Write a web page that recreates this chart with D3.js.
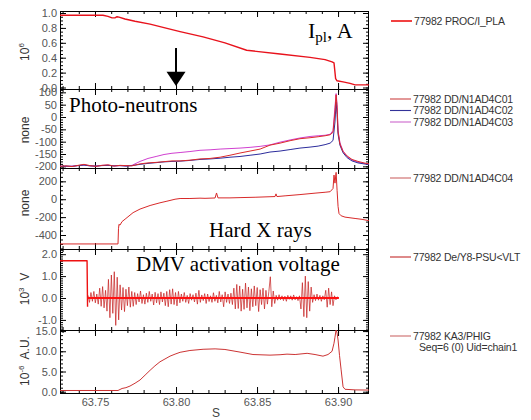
<!DOCTYPE html>
<html>
<head>
<meta charset="utf-8">
<script src="https://cdn.jsdelivr.net/npm/d3@7"></script>
<style>
  body { margin: 0; background: #fff; }
  svg { display: block; }
</style>
</head>
<body>
<svg id="chart" width="531" height="420"></svg>
<script>

// ---- data (time in s) ----
const iplT = [63.7284, 63.7549, 63.7580, 63.7605, 63.7623, 63.7636, 63.7648, 63.7685, 63.7747, 63.7840,
  63.7932, 63.8025, 63.8167, 63.8302, 63.8436, 63.8642, 63.8827, 63.8920, 63.8963, 63.8975,
  63.8985, 63.8994, 63.9031, 63.9074, 63.9105, 63.9191];
const iplV = [0.97, 0.97, 0.955, 0.935, 0.935, 0.95, 0.945, 0.92, 0.89, 0.85,
  0.80, 0.75, 0.68, 0.60, 0.50, 0.45, 0.405, 0.375, 0.345, 0.33,
  0.12, 0.09, 0.075, 0.055, 0.035, 0.035];

const neutronT = [63.7284, 63.7321, 63.7358, 63.7395, 63.7432, 63.7469, 63.7506, 63.7543, 63.7580, 63.7617,
  63.7654, 63.7691, 63.7728, 63.7778, 63.7827, 63.7877, 63.7926, 63.7975, 63.8025, 63.8086,
  63.8148, 63.8210, 63.8272, 63.8333, 63.8395, 63.8457, 63.8519, 63.8580, 63.8642, 63.8704,
  63.8765, 63.8827, 63.8877, 63.8920, 63.8951, 63.8969, 63.8981, 63.8988, 63.8994, 63.9000,
  63.9012, 63.9031, 63.9056, 63.9086, 63.9123, 63.9160, 63.9191];
const c01 = [-200, -198, -201, -196, -192, -197, -200, -196, -194, -199,
  -196, -197, -198, -190, -186, -184, -181, -178, -178, -175,
  -170, -168, -163, -155, -146, -138, -130, -114, -106, -96,
  -88, -84, -80, -76, -72, -62, 20, 90, 40, -60,
  -110, -140, -158, -172, -180, -186, -190];
const c02 = [-201, -199, -200, -197, -195, -198, -199, -197, -196, -198,
  -197, -199, -197, -192, -188, -185, -182, -180, -179, -176,
  -172, -170, -167, -163, -160, -155, -150, -142, -138, -132,
  -126, -122, -118, -112, -106, -95, -20, 60, 10, -70,
  -115, -145, -165, -178, -186, -190, -193];
const c03 = [-199, -200, -199, -197, -194, -198, -199, -196, -195, -198,
  -197, -198, -196, -180, -168, -160, -152, -147, -144, -140,
  -135, -133, -130, -128, -126, -123, -119, -113, -102, -93,
  -85, -79, -76, -74, -70, -55, 40, 95, 50, -55,
  -105, -138, -160, -174, -183, -188, -192];

const hxrT = [63.7284, 63.7642, 63.7645, 63.7648, 63.7654, 63.7667, 63.7691, 63.7735, 63.7778, 63.7840,
  63.7901, 63.7944, 63.7994, 63.8025, 63.8086, 63.8148, 63.8179, 63.8241, 63.8250, 63.8259,
  63.8333, 63.8395, 63.8488, 63.8580, 63.8611, 63.8617, 63.8623, 63.8673, 63.8765, 63.8858,
  63.8920, 63.8951, 63.8969, 63.8975, 63.8981, 63.8988, 63.8994, 63.9000, 63.9006, 63.9019,
  63.9043, 63.9105, 63.9148, 63.9191];
const hxrV = [-500, -500, -330, -280, -290, -250, -215, -150, -110, -70,
  -40, -22, 0, 8, 8, 12, 10, 14, 70, 15,
  15, 18, 22, 28, 30, 60, 30, 38, 52, 68,
  78, 84, 120, 270, 180, 300, 100, -80, -160, -185,
  -200, -215, -225, -240];

const dmvFlatT = [63.7284, 63.7451, 63.7454];
const dmvFlatV = [1.70, 1.70, -0.40];
const dmvStart = 63.7457, dmvStep = 0.0009;
const dmvV = [
  0.12, -0.2, 0.25, -0.15, 0.3, -0.22, 0.18, -0.28,
  0.45, -0.38, 0.52, -0.45, 0.35, -0.6,
  0.85, -0.9, 1.05, -0.7, 1.2, -1.25, 0.95, -1.0,
  0.6, -0.55, 0.48, -0.62, 0.4, -0.35, 0.5, -0.42, 0.3, -0.38,
  0.25, -0.3, 0.2, -0.18, 0.32, -0.25, 0.15, -0.28, 0.22, -0.2, 0.3, -0.15, 0.18, -0.32, 0.26, -0.22, 0.2, -0.3, 0.28, -0.18, 0.22,
  -0.35, 0.3, -0.4, 0.38, -0.28, 0.42, -0.3, 0.25, -0.36, 0.3,
  -0.22, 0.18, -0.15, 0.25, -0.2, 0.12, -0.25, 0.2, -0.1, 0.15, -0.18, 0.22, -0.28, 0.35, -0.2, 0.14, -0.12, 0.2, -0.25, 0.18,
  -0.16, 0.1, -0.2, 0.24, -0.15, 0.12, -0.22, 0.3, -0.18, 0.15, -0.4, 0.28, -0.2, 0.18, -0.25, 0.22, -0.3,
  0.45, -0.5, 0.62, -0.48, 0.55, -0.6, 0.4, -0.52, 0.68, -0.45, 0.5, -0.58, 0.42, -0.4, 0.55, -0.35, 0.48, -0.62, 0.38, -0.3,
  0.45, -0.5, 0.35, -0.28, 0.3, 0.97, -0.4, 0.32, -0.25,
  0.12, -0.1, 0.15, -0.08, 0.1, -0.12, 0.08, -0.15, 0.12, -0.06, 0.1, -0.1, 0.14, -0.08, 0.06, -0.12, 0.1,
  -0.5, 0.7, -0.85, 1.0, -0.9, 0.75, -0.6, 0.5,
  -0.2, 0.15, -0.12, 0.18, -0.1, 0.12, -0.15, 0.1, -0.08,
  0.35, -0.42, 0.45, -0.3, 0.28, -0.35,
  0.1, -0.08, 0.05, 0.0];

const phigT = [63.7284, 63.7642, 63.7667, 63.7691, 63.7716, 63.7747, 63.7778, 63.7809, 63.7840, 63.7870,
  63.7901, 63.7932, 63.7963, 63.7994, 63.8025, 63.8086, 63.8167, 63.8241, 63.8302, 63.8395,
  63.8475, 63.8580, 63.8642, 63.8685, 63.8735, 63.8809, 63.8858, 63.8907, 63.8938, 63.8963,
  63.8975, 63.8981, 63.8988, 63.8994, 63.9000, 63.9009, 63.9019, 63.9031, 63.9043, 63.9105,
  63.9191];
const phigV = [0.3, 0.3, 0.8, 1.0, 1.4, 2.1, 2.9, 4.1, 5.3, 6.4,
  7.4, 8.1, 8.8, 9.3, 9.75, 10.2, 10.5, 10.6, 10.45, 9.8,
  9.2, 9.05, 9.15, 9.3, 9.2, 9.5, 9.2, 8.8, 9.2, 10.0,
  12, 13.5, 15.3, 14.5, 12.8, 9, 5.4, 1.2, 0.6, 0.45,
  0.4];

const xTicks = [63.75, 63.80, 63.85, 63.90];
const legendLabels = ["77982 PROC/I_PLA", "77982 DD/N1AD4C01", "77982 DD/N1AD4C02", "77982 DD/N1AD4C03",
  "77982 DD/N1AD4C04", "77982 De/Y8-PSU<VLT", "77982 KA3/PHIG"];

// ---- layout ----
const svg = d3.select("#chart");
const x0 = 60, x1 = 369;
const x = d3.scaleLinear().domain([63.7284, 63.9191]).range([x0, x1]);
const tickFont = "'Liberation Sans', Arial, sans-serif";

const panels = [
  { top: 11, bottom: 89, domain: [-0.02, 1.027], ticks: [0, 0.2, 0.4, 0.6, 0.8, 1.0], minor: 0.05, fmt: d => d.toFixed(1), lab: ["10", "6", ""], ly: 52 },
  { top: 89, bottom: 168, domain: [-206.7, 113.5], ticks: [-200, -150, -100, -50, 0, 50, 100], minor: 10, fmt: d => String(d), lab: ["none"], ly: 130 },
  { top: 168, bottom: 249, domain: [-556.5, 349.2], ticks: [-400, -200, 0, 200], minor: 50, fmt: d => String(d), lab: ["none"], ly: 203 },
  { top: 249, bottom: 330, domain: [-1.461, 2.237], ticks: [-1, 0, 1, 2], minor: 0.1, fmt: d => d.toFixed(1), lab: ["10", "3", "  V"], ly: 289 },
  { top: 330, bottom: 393, domain: [-0.32, 15.27], ticks: [0, 5, 10, 15], minor: 1, fmt: d => d.toFixed(1), lab: ["10", "-6", "  A.U."], ly: 361 }
];

const ys = panels.map((p, i) => {
  const y = d3.scaleLinear().domain(p.domain).range([p.bottom, p.top]);
  p.y = y;
  svg.append("clipPath").attr("id", "clip" + i)
    .append("rect").attr("x", x0).attr("y", p.top).attr("width", x1 - x0).attr("height", p.bottom - p.top);

  const minorVals = d3.range(Math.ceil(p.domain[0] / p.minor) * p.minor, p.domain[1], p.minor);
  const xMinor = d3.range(63.73, 63.9191, 0.01);

  const axes = svg.append("g").attr("class", "axes");
  const styleAxis = g => {
    g.select(".domain").remove();
    g.selectAll("line").attr("stroke", "#000");
    g.selectAll("text").attr("font-family", tickFont).attr("font-size", 11).attr("fill", "#555");
  };
  axes.append("g").attr("transform", `translate(${x0},0)`)
    .call(d3.axisLeft(y).tickValues(p.ticks).tickSize(-6).tickPadding(3).tickFormat(p.fmt)).call(styleAxis);
  axes.append("g").attr("transform", `translate(${x0},0)`)
    .call(d3.axisLeft(y).tickValues(minorVals).tickSize(-3).tickFormat("")).call(styleAxis);
  axes.append("g").attr("transform", `translate(${x1},0)`)
    .call(d3.axisRight(y).tickValues(p.ticks).tickSize(-6).tickFormat("")).call(styleAxis);
  axes.append("g").attr("transform", `translate(${x1},0)`)
    .call(d3.axisRight(y).tickValues(minorVals).tickSize(-3).tickFormat("")).call(styleAxis);

  axes.append("g").attr("transform", `translate(0,${p.top})`)
    .call(d3.axisTop(x).tickValues(xTicks).tickSize(-6).tickFormat("")).call(styleAxis);
  axes.append("g").attr("transform", `translate(0,${p.top})`)
    .call(d3.axisTop(x).tickValues(xMinor).tickSize(-3).tickFormat("")).call(styleAxis);
  const last = i === panels.length - 1;
  axes.append("g").attr("transform", `translate(0,${p.bottom})`)
    .call(d3.axisBottom(x).tickValues(xTicks).tickSize(-6).tickPadding(5)
      .tickFormat(last ? d3.format(".2f") : "")).call(styleAxis);
  axes.append("g").attr("transform", `translate(0,${p.bottom})`)
    .call(d3.axisBottom(x).tickValues(xMinor).tickSize(-3).tickFormat("")).call(styleAxis);

  // y title
  const t = svg.append("text")
    .attr("transform", `translate(29,${p.ly}) rotate(-90)`)
    .attr("text-anchor", "middle")
    .attr("font-family", tickFont).attr("font-size", 12).attr("fill", "#333")
    .style("white-space", "pre");
  t.append("tspan").text(p.lab[0]);
  if (p.lab.length > 1) {
    t.append("tspan").attr("font-size", 8).attr("dy", -5).text(p.lab[1]);
    t.append("tspan").attr("dy", 5).text(p.lab[2]);
  }
  return y;
});

// frames
panels.forEach(p => {
  svg.append("rect").attr("x", x0 + 0.5).attr("y", p.top + 0.5)
    .attr("width", x1 - x0 - 1).attr("height", p.bottom - p.top)
    .attr("fill", "none").attr("stroke", "#000").attr("stroke-width", 1);
});

function drawLine(i, ts, vs, color, width) {
  const y = ys[i];
  const line = d3.line().x(d => x(d[0])).y(d => y(d[1]));
  svg.append("path")
    .datum(ts.map((t, k) => [t, vs[k]]))
    .attr("clip-path", `url(#clip${i})`)
    .attr("d", line)
    .attr("fill", "none")
    .attr("stroke", color)
    .attr("stroke-width", width)
    .attr("stroke-linejoin", "round");
}

// panel 1
drawLine(0, iplT, iplV, "#e8121c", 1.4);
// panel 2
drawLine(1, neutronT, c03, "#d040d0", 1);
drawLine(1, neutronT, c02, "#2c2c9c", 1);
drawLine(1, neutronT, c01, "#dc2a2a", 1);
// panel 3
drawLine(2, hxrT, hxrV, "#d82a2a", 1);
// panel 4
drawLine(3, dmvFlatT, dmvFlatV, "#ee1111", 1.4);
const dmvT = dmvV.map((v, k) => dmvStart + k * dmvStep);
drawLine(3, dmvT, dmvV, "#c41c1c", 0.7);
drawLine(3, [dmvT[0], dmvT[dmvT.length - 1]], [0, 0], "#ff1010", 2.2);
// panel 5
drawLine(4, phigT, phigV, "#cc3434", 1);

// arrow at 63.80
const ax = x(63.80), ay = ys[0];
svg.append("line").attr("x1", ax).attr("x2", ax).attr("y1", ay(0.53)).attr("y2", ay(0.2))
  .attr("stroke", "#000").attr("stroke-width", 2);
svg.append("path")
  .attr("d", `M${ax - 9.5},${ay(0.21)} L${ax + 9.5},${ay(0.21)} L${ax},${ay(0.02)} Z`)
  .attr("fill", "#000");

// annotations
const serif = "'Liberation Serif', 'Times New Roman', serif";
const ipl = svg.append("text").attr("x", 308).attr("y", 38)
  .attr("font-family", serif).attr("font-size", 22).attr("fill", "#000");
ipl.append("tspan").text("I");
ipl.append("tspan").attr("font-size", 15).attr("dy", 4).text("pl");
ipl.append("tspan").attr("dy", -4).text(", A");
svg.append("text").attr("x", 69).attr("y", 112).attr("font-family", serif).attr("font-size", 21).text("Photo-neutrons");
svg.append("text").attr("x", 209).attr("y", 237).attr("font-family", serif).attr("font-size", 21).text("Hard X rays");
svg.append("text").attr("x", 136).attr("y", 271).attr("font-family", serif).attr("font-size", 21).text("DMV activation voltage");

// x title
svg.append("text").attr("x", 216).attr("y", 417).attr("text-anchor", "middle")
  .attr("font-family", tickFont).attr("font-size", 12).attr("fill", "#444").text("S");

// legend
const legendColors = ["#ee1111", "#cc4444", "#333399", "#cc66cc", "#cc6666", "#c42a2a", "#cc6a6a"];
const legendRows = [21, 99, 110.5, 122, 178, 257, 336];
legendLabels.forEach((lab, k) => {
  const ly = legendRows[k];
  const lx = k === 0 ? 391 : 390;
  svg.append("line").attr("x1", lx).attr("x2", lx + 21).attr("y1", ly).attr("y2", ly)
    .attr("stroke", legendColors[k]).attr("stroke-width", k === 0 ? 1.6 : 1.1);
  svg.append("text").attr("x", lx + 23).attr("y", ly + 3.8)
    .attr("font-family", tickFont).attr("font-size", 10.5).attr("fill", "#333")
    .attr("letter-spacing", -0.2).text(lab);
});
svg.append("text").attr("x", 419).attr("y", 351)
  .attr("font-family", tickFont).attr("font-size", 10.5).attr("fill", "#333")
  .attr("letter-spacing", -0.2).text("Seq=6 (0) Uid=chain1");

</script>
</body>
</html>
